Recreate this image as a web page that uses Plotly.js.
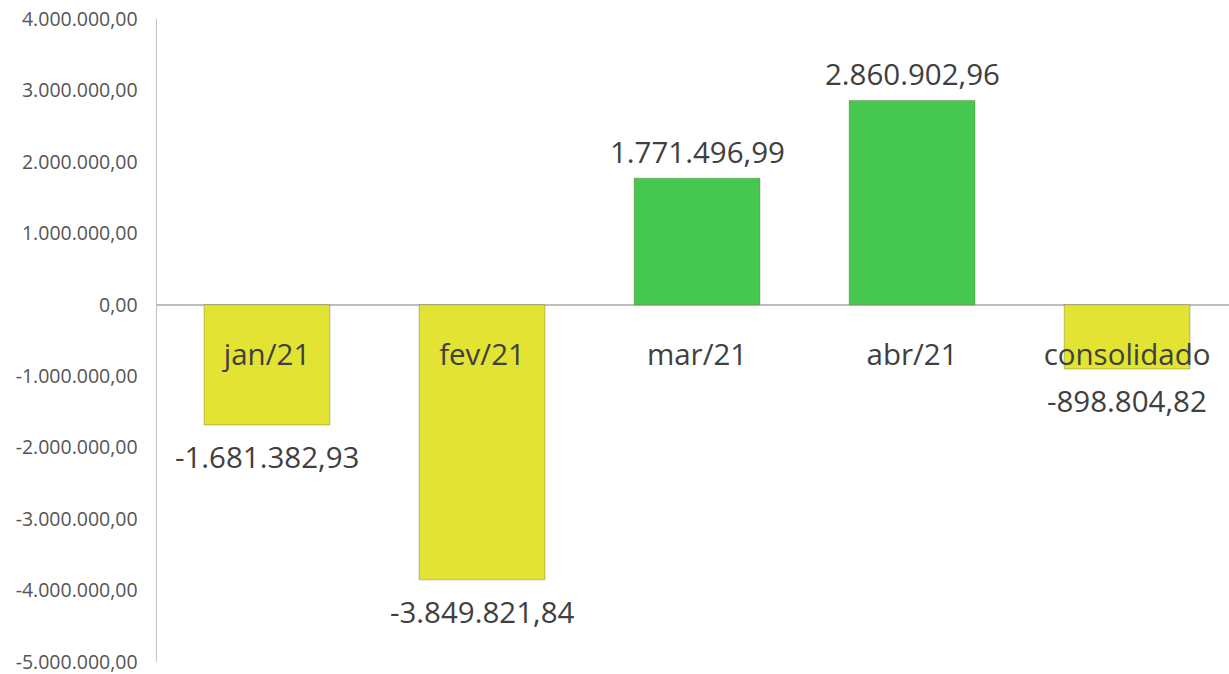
<!DOCTYPE html>
<html>
<head>
<meta charset="utf-8">
<script src="https://cdn.plot.ly/plotly-3.0.1.min.js"></script>
<style>html,body{margin:0;padding:0;background:#fff;}#chart{width:1229px;height:674px;}</style>
</head>
<body>
<div id="chart"></div>
<script>
const categories = ["jan/21", "fev/21", "mar/21", "abr/21", "consolidado"];
const values = [-1681382.93, -3849821.84, 1771496.99, 2860902.96, -898804.82];
const tickValues = [4000000, 3000000, 2000000, 1000000, 0, -1000000, -2000000, -3000000, -4000000, -5000000];

const YELLOW = "#e2e333";
const GREEN = "#46c74f";
const colors = values.map(v => v < 0 ? YELLOW : GREEN);

function fmtBR(v) {
  const neg = v < 0;
  const a = Math.abs(v).toFixed(2).split(".");
  const intPart = a[0].replace(/\B(?=(\d{3})+(?!\d))/g, ".");
  return (neg ? "-" : "") + intPart + "," + a[1];
}

const annotations = values.map((v, i) => ({
  x: categories[i], y: v, xref: "x", yref: "y",
  text: fmtBR(v), showarrow: false,
  yanchor: v < 0 ? "top" : "bottom",
  yshift: v < 0 ? -9 : 4,
  font: {family: "Open Sans, sans-serif", size: 29.5, color: "#404040"}
}));

const trace = {
  type: "bar",
  x: categories,
  y: values,
  marker: {color: colors, line: {color: "rgba(90,90,40,0.35)", width: 1}},
  width: 0.585,
  hoverinfo: "skip"
};

const layout = {
  width: 1229, height: 674,
  margin: {l: 157, r: 0, t: 19, b: 12},
  paper_bgcolor: "#fff", plot_bgcolor: "#fff",
  separators: ",.",
  showlegend: false,
  xaxis: {
    type: "category",
    anchor: "free", position: 5/9,
    showline: false, showgrid: false, zeroline: false,
    ticks: "", ticklabelstandoff: 30,
    tickfont: {family: "Open Sans, sans-serif", size: 29.5, color: "#404040"},
    range: [-0.5116, 4.474]
  },
  yaxis: {
    range: [-5000000, 4000000],
    tickvals: tickValues,
    ticktext: tickValues.map(fmtBR),
    showgrid: false,
    showline: true, linecolor: "#c4c4c8", linewidth: 1.5,
    zeroline: true, zerolinecolor: "#bdbdbd", zerolinewidth: 1.5,
    ticks: "", ticklabelstandoff: 14,
    ticklabeloverflow: "allow",
    tickfont: {family: "Open Sans, sans-serif", size: 19.5, color: "#555555"}
  },
  annotations: annotations
};

Plotly.newPlot("chart", [trace], layout, {displayModeBar: false, staticPlot: true});
</script>
</body>
</html>
